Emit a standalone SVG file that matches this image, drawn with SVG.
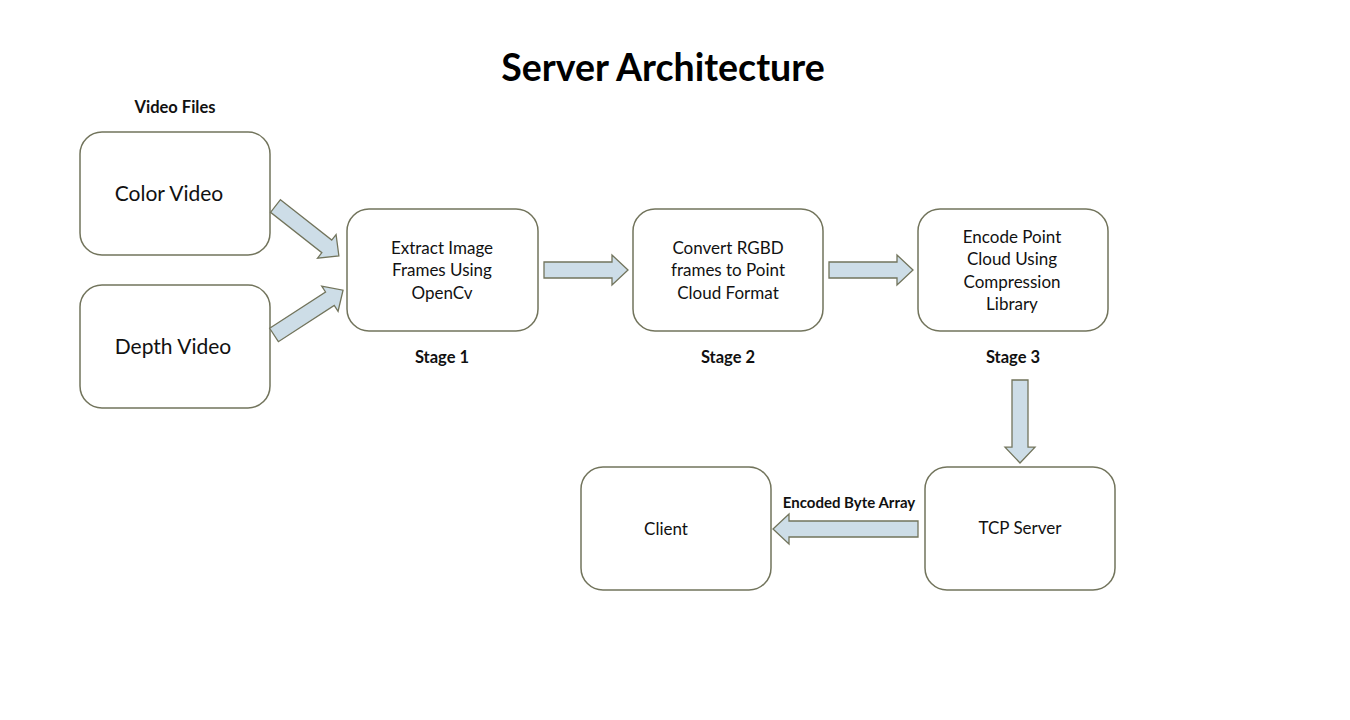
<svg xmlns="http://www.w3.org/2000/svg" width="1350" height="720" viewBox="0 0 1350 720">
<style>
.box{fill:#fff;stroke:#72745c;stroke-width:1.5}
.arr{fill:#cddde7;stroke:#72745c;stroke-width:1.3;stroke-linejoin:miter}
text{font-family:Lato,"Open Sans","Liberation Sans",sans-serif;fill:#111;text-anchor:middle}
.t{font-size:17px}
.big{font-size:21px}
.b{font-size:16.5px;font-weight:bold}
.title{font-size:37.5px;font-weight:bold;fill:#000}
</style>
<defs>
<path id="a84" d="M0,-8 H68 V-15 L84,0 L68,15 V8 H0 Z"/>
</defs>
<rect width="1350" height="720" fill="#fff"/>
<text class="title" x="663" y="81">Server Architecture</text>
<text class="b" x="175" y="113">Video Files</text>
<g id="color-video"><rect class="box" x="80" y="132" width="190" height="123" rx="22"/><text class="big" x="169" y="201">Color Video</text></g>
<g id="depth-video"><rect class="box" x="80" y="285" width="190" height="123" rx="22"/><text class="big" x="173" y="354">Depth Video</text></g>
<g id="stage1"><rect class="box" x="347" y="209" width="191" height="122" rx="22"/>
<text class="t" x="442" y="254">Extract Image</text><text class="t" x="442" y="276">Frames Using</text><text class="t" x="442" y="299">OpenCv</text>
<text class="b" x="442" y="363">Stage 1</text></g>
<g id="stage2"><rect class="box" x="633" y="209" width="190" height="122" rx="22"/>
<text class="t" x="728" y="254">Convert RGBD</text><text class="t" x="728" y="276">frames to Point</text><text class="t" x="728" y="299">Cloud Format</text>
<text class="b" x="728" y="363">Stage 2</text></g>
<g id="stage3"><rect class="box" x="918" y="209" width="190" height="122" rx="22"/>
<text class="t" x="1012" y="243">Encode Point</text><text class="t" x="1012" y="265">Cloud Using</text><text class="t" x="1012" y="288">Compression</text><text class="t" x="1012" y="310">Library</text>
<text class="b" x="1013" y="363">Stage 3</text></g>
<g id="tcp-server"><rect class="box" x="925" y="467" width="190" height="123" rx="22"/><text class="t" x="1020" y="534">TCP Server</text></g>
<g id="client"><rect class="box" x="581" y="467" width="190" height="123" rx="22"/><text class="t" x="666" y="535">Client</text></g>
<g id="connectors">
<use href="#a84" class="arr" transform="translate(275.5,206) rotate(38.2) scale(0.96,1)"/>
<use href="#a84" class="arr" transform="translate(274,335) rotate(-33) scale(0.98,1)"/>
<use href="#a84" class="arr" transform="translate(544,270)"/>
<use href="#a84" class="arr" transform="translate(829,270)"/>
<use href="#a84" class="arr" transform="translate(1020,380) rotate(90) scale(0.988,1)"/>
<path class="arr" d="M918,521 H789 V514 L773,529 L789,544 V537 H918 Z"/>
<text class="b" x="849" y="508" style="font-size:15px">Encoded Byte Array</text>
</g>
</svg>
